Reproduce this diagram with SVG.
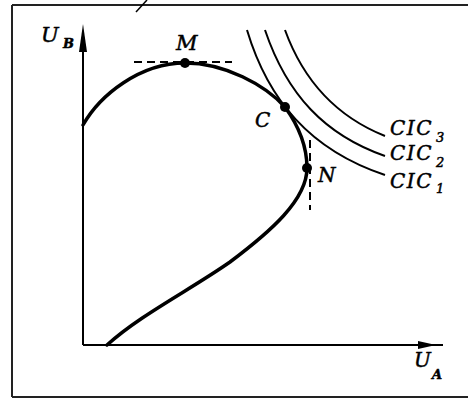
<svg xmlns="http://www.w3.org/2000/svg" width="468" height="398" viewBox="0 0 468 398">
<defs>
<style>
.frame{stroke:#222;stroke-width:2;fill:none}
.axis{stroke:#000;stroke-width:2;fill:none}
.main{stroke:#000;stroke-width:3.5;fill:none;stroke-linecap:round}
.cic{stroke:#000;stroke-width:2;fill:none}
.dash{stroke:#000;stroke-width:2;fill:none;stroke-dasharray:8 5}
.lbl{font-family:"DejaVu Serif","Liberation Serif",serif;font-style:italic;fill:#000;stroke:#000;stroke-width:0.5}
.dot{fill:#000}
</style>
</defs>
<g id="frame">
<path class="frame" d="M12,5 H468 M12,5 V397 M12,397 H468"/>
<path d="M136,12 L147,0" stroke="#000" stroke-width="1.5"/>
</g>
<g id="axes">
<path class="axis" d="M83,345 V40"/>
<path class="axis" d="M83,345 H443"/>
<polygon points="83,24 87,52 79,52" fill="#000"/>
<polygon points="436,345 418,341 418,349" fill="#000"/>
<text class="lbl" x="41" y="42" font-size="21">U</text>
<text class="lbl" x="63" y="48" font-size="13" font-weight="bold">B</text>
<text class="lbl" x="414" y="367" font-size="20">U</text>
<text class="lbl" x="432" y="379" font-size="13" font-weight="bold">A</text>
</g>
<g id="connectors">
<path class="main" d="M83,125 C100,95 140,63 185,63 C225,63 265,85 285,107 C298,125 307,145 307,168 C307,200 270,232 230,262 C190,290 140,315 107,345"/>
<path class="dash" d="M134,62 H232"/>
<path class="dash" d="M310,140 V210" stroke-width="1.5"/>
<path class="cic" d="M247,30 C268,100 310,150 385,175"/>
<path class="cic" d="M265,30 C287,95 325,135 385,156"/>
<path class="cic" d="M285,30 C305,85 340,118 385,136"/>
</g>
<g id="M">
<circle class="dot" cx="185" cy="63" r="5"/>
<text class="lbl" x="176" y="50" font-size="21">M</text>
</g>
<g id="C">
<circle class="dot" cx="285" cy="107" r="5"/>
<text class="lbl" x="255" y="127" font-size="20">C</text>
</g>
<g id="N">
<circle class="dot" cx="307" cy="168" r="5"/>
<text class="lbl" x="318" y="182" font-size="20">N</text>
</g>
<g id="CIC3">
<text class="lbl" x="390" y="135" font-size="20" letter-spacing="1.5">CIC</text>
<text class="lbl" x="436" y="142" font-size="13">3</text>
</g>
<g id="CIC2">
<text class="lbl" x="390" y="160" font-size="20" letter-spacing="1.5">CIC</text>
<text class="lbl" x="436" y="167" font-size="13">2</text>
</g>
<g id="CIC1">
<text class="lbl" x="390" y="188" font-size="20" letter-spacing="1.5">CIC</text>
<text class="lbl" x="436" y="193" font-size="13">1</text>
</g>
</svg>
